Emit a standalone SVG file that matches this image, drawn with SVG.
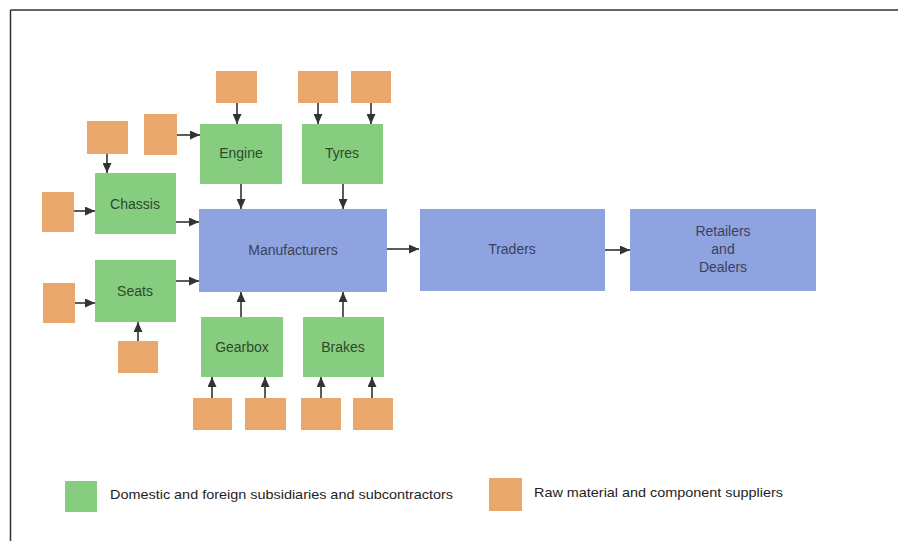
<svg xmlns="http://www.w3.org/2000/svg" width="898" height="541" viewBox="0 0 898 541">
<style>
.g{fill:#86cd7f}
.o{fill:#e9a76c}
.b{fill:#8fa3e1}
.t{font-family:"Liberation Sans",Arial,sans-serif;font-size:14px;text-anchor:middle}
.tg{fill:#2d4a2c}
.tb{fill:#3a4258}
.lg{font-family:"Liberation Sans",Arial,sans-serif;font-size:13px;fill:#1e1e1e}
.c line{stroke:#333;stroke-width:1.6;marker-end:url(#ah)}
</style>
<defs>
<marker id="ah" markerUnits="userSpaceOnUse" markerWidth="10" markerHeight="9" refX="10" refY="4.5" orient="auto">
<path d="M0,0 L10,4.5 L0,9 Z" fill="#333"/>
</marker>
</defs>
<rect width="898" height="541" fill="#fff"/>
<g id="frame" stroke="#333" stroke-width="1.5" fill="none">
<line x1="10.5" y1="10" x2="898" y2="10"/>
<line x1="10.5" y1="10" x2="10.5" y2="541"/>
</g>

<g id="sup-engine-top"><rect class="o" x="216" y="71" width="41" height="32"/></g>
<g id="sup-tyres-1"><rect class="o" x="298" y="71" width="40" height="32"/></g>
<g id="sup-tyres-2"><rect class="o" x="351" y="71" width="40" height="32"/></g>
<g id="sup-engine-side"><rect class="o" x="144" y="114" width="33" height="41"/></g>
<g id="sup-chassis-top"><rect class="o" x="87" y="121" width="41" height="33"/></g>
<g id="sup-chassis-left"><rect class="o" x="42" y="192" width="32" height="40"/></g>
<g id="sup-seats-left"><rect class="o" x="43" y="283" width="32" height="40"/></g>
<g id="sup-seats-bottom"><rect class="o" x="118" y="341" width="40" height="32"/></g>
<g id="sup-gear-1"><rect class="o" x="193" y="398" width="39" height="32"/></g>
<g id="sup-gear-2"><rect class="o" x="245" y="398" width="41" height="32"/></g>
<g id="sup-brakes-1"><rect class="o" x="301" y="398" width="40" height="32"/></g>
<g id="sup-brakes-2"><rect class="o" x="353" y="398" width="40" height="32"/></g>

<g id="engine"><rect class="g" x="200" y="124" width="82" height="60"/><text class="t tg" x="241" y="158">Engine</text></g>
<g id="tyres"><rect class="g" x="302" y="124" width="81" height="60"/><text class="t tg" x="342" y="158">Tyres</text></g>
<g id="chassis"><rect class="g" x="95" y="173" width="81" height="61"/><text class="t tg" x="135" y="209">Chassis</text></g>
<g id="seats"><rect class="g" x="95" y="260" width="81" height="62"/><text class="t tg" x="135" y="296">Seats</text></g>
<g id="gearbox"><rect class="g" x="201" y="317" width="82" height="60"/><text class="t tg" x="242" y="352">Gearbox</text></g>
<g id="brakes"><rect class="g" x="303" y="317" width="81" height="60"/><text class="t tg" x="343" y="352">Brakes</text></g>

<g id="manufacturers"><rect class="b" x="199" y="209" width="188" height="83"/><text class="t tb" x="293" y="255">Manufacturers</text></g>
<g id="traders"><rect class="b" x="420" y="209" width="185" height="82"/><text class="t tb" x="512" y="254">Traders</text></g>
<g id="retailers"><rect class="b" x="630" y="209" width="186" height="82"/><text class="t tb" x="723" y="236">Retailers</text><text class="t tb" x="723" y="254">and</text><text class="t tb" x="723" y="272">Dealers</text></g>

<g id="connectors" class="c">
<line x1="237" y1="103" x2="237" y2="124"/>
<line x1="318" y1="103" x2="318" y2="124"/>
<line x1="371" y1="103" x2="371" y2="124"/>
<line x1="177" y1="135" x2="200" y2="135"/>
<line x1="107" y1="154" x2="107" y2="173"/>
<line x1="74" y1="211" x2="95" y2="211"/>
<line x1="176" y1="222" x2="199" y2="222"/>
<line x1="176" y1="281" x2="199" y2="281"/>
<line x1="75" y1="303" x2="95" y2="303"/>
<line x1="138" y1="341" x2="138" y2="322"/>
<line x1="241" y1="184" x2="241" y2="209"/>
<line x1="343" y1="184" x2="343" y2="209"/>
<line x1="241" y1="317" x2="241" y2="292"/>
<line x1="343" y1="317" x2="343" y2="292"/>
<line x1="212" y1="398" x2="212" y2="377"/>
<line x1="265" y1="398" x2="265" y2="377"/>
<line x1="321" y1="398" x2="321" y2="377"/>
<line x1="372" y1="398" x2="372" y2="377"/>
<line x1="387" y1="249" x2="419" y2="249"/>
<line x1="605" y1="250" x2="630" y2="250"/>
</g>

<g id="legend">
<rect class="g" x="65" y="481" width="32" height="31"/>
<text class="lg" x="110" y="499" textLength="343" lengthAdjust="spacingAndGlyphs">Domestic and foreign subsidiaries and subcontractors</text>
<rect class="o" x="489" y="478" width="33" height="33"/>
<text class="lg" x="534" y="497" textLength="249" lengthAdjust="spacingAndGlyphs">Raw material and component suppliers</text>
</g>
</svg>
